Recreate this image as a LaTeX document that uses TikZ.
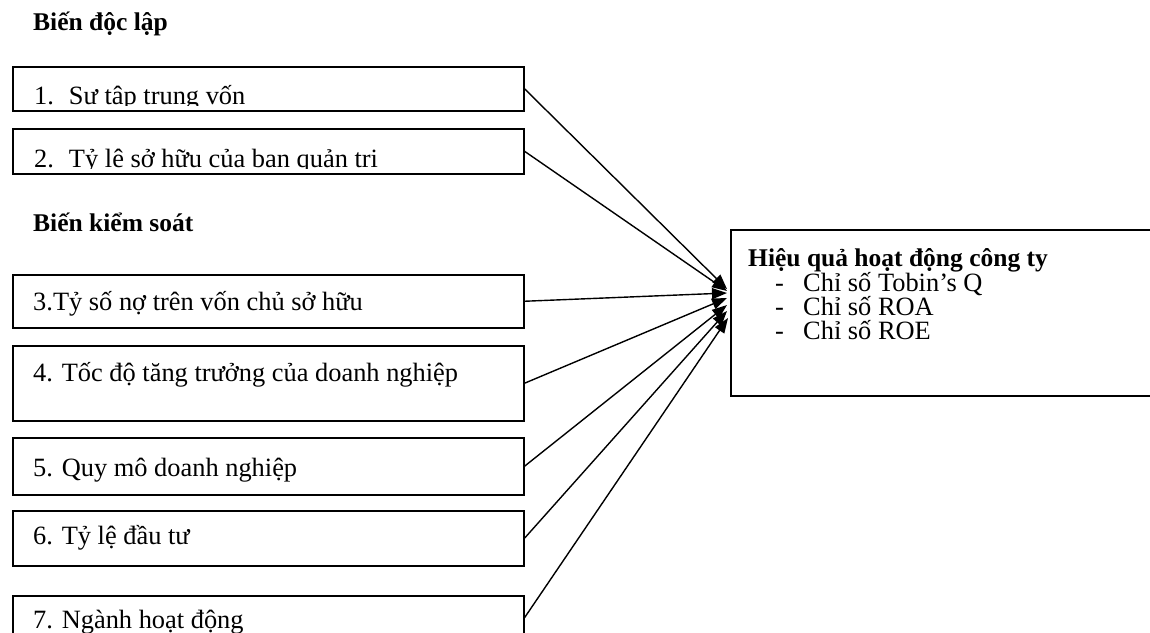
\documentclass[tikz,border=0pt]{standalone}
\usepackage{fontspec}
\setmainfont{Liberation Serif}
\usetikzlibrary{arrows.meta}
\begin{document}
\begin{tikzpicture}[x=1pt,y=-1pt,
  box/.style={draw,line width=1.5pt,anchor=north west,inner sep=0pt,minimum width=511pt},
  outbox/.style={draw,line width=1.5pt,anchor=north west,inner sep=0pt},
  lbl/.style={anchor=base west,inner sep=0pt,font=\fontsize{26.4}{29}\selectfont},
  hdr/.style={anchor=base west,inner sep=0pt,font=\fontsize{25.5}{28}\selectfont\bfseries},
  conn/.style={line width=1.4pt,-{Triangle[length=15pt,width=11pt]}}]
\useasboundingbox (0,0) rectangle (1150,632);

% headings
\node[hdr] (h1) at (33,30) {Biến độc lập};
\node[hdr] (h2) at (33,231) {Biến kiểm soát};

% boxes
\node[box,minimum height=44pt] (b1) at (12,66) {};
\node[box,minimum height=45pt] (b2) at (12,128) {};
\node[box,minimum height=53pt] (b3) at (12,274) {};
\node[box,minimum height=75pt] (b4) at (12,345) {};
\node[box,minimum height=57pt] (b5) at (12,437) {};
\node[box,minimum height=55pt] (b6) at (12,510) {};
\node[box,minimum height=44pt] (b7) at (12,595) {};

% clipped texts of boxes 1 and 2
\begin{scope}
\clip (12,66) rectangle (523,105);
\node[lbl] (n1) at (34,104) {1.\hspace{15pt}Sư tâp trung vốn};
\end{scope}
\begin{scope}
\clip (12,128) rectangle (523,168);
\node[lbl] (n2) at (34,167) {2.\hspace{15pt}Tỷ lê sở hữu của ban quản tri};
\end{scope}

\node[lbl] (n3) at (33,310) {3.Tỷ số nợ trên vốn chủ sở hữu};
\node[lbl] (n4) at (33,381) {4. Tốc độ tăng trưởng của doanh nghiệp};
\node[lbl] (n5) at (33,476) {5. Quy mô doanh nghiệp};
\node[lbl] (n6) at (33,544) {6. Tỷ lệ đầu tư};
\node[lbl] (n7) at (33,628) {7. Ngành hoạt động};

% outcome box
\node[outbox,minimum width=450pt,minimum height=166pt] (out) at (730,229) {};
\node[anchor=north west,inner sep=0pt,align=left,
      font=\fontsize{26.4}{23.2}\selectfont] (res) at (748,248)
  {{\fontsize{25.5}{23.2}\selectfont\bfseries Hiệu quả hoạt động công ty}\\[-0.5pt]
   \hspace{27pt}\makebox[28pt][l]{-}Chỉ số Tobin’s Q\\
   \hspace{27pt}\makebox[28pt][l]{-}Chỉ số ROA\\
   \hspace{27pt}\makebox[28pt][l]{-}Chỉ số ROE};

% arrow tips
\coordinate (t1) at (727,289);
\coordinate (t2) at (727,291);
\coordinate (t3) at (727,293);
\coordinate (t4) at (727,298);
\coordinate (t5) at (727,305);
\coordinate (t6) at (727,311);
\coordinate (t7) at (728,318);

\draw[conn] (b1.east) -- (t1);
\draw[conn] (b2.east) -- (t2);
\draw[conn] (b3.east) -- (t3);
\draw[conn] (b4.east) -- (t4);
\draw[conn] (b5.east) -- (t5);
\draw[conn] (b6.east) -- (t6);
\draw[conn] (b7.east) -- (t7);
\end{tikzpicture}
\end{document}
